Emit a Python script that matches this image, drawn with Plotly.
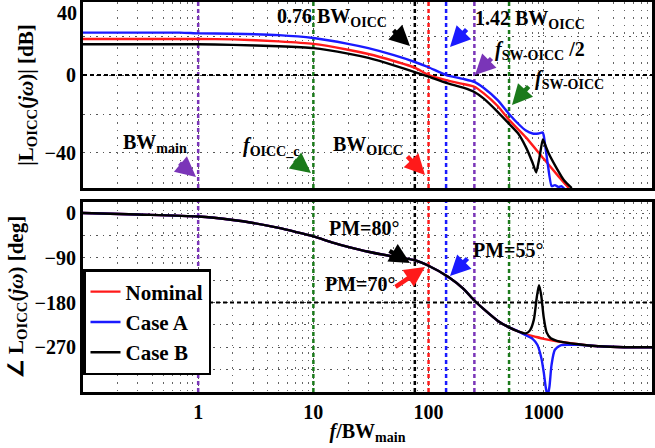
import plotly.graph_objects as go
from plotly.subplots import make_subplots

# ---------------- data ----------------
# Magnitude |L_OICC(jw)| [dB] vs f/BW_main
freq_mag_nominal = [0.1, 1, 2, 5, 10, 20, 30, 50, 76, 100, 142, 200, 250, 300, 400, 500, 700, 1000, 1300, 1650]
mag_nominal = [18.5, 18.5, 18.3, 17.3, 16.0, 13.0, 10.8, 7.2, 3.8, 0.0, -2.6, -4.6, -6.0, -9.3, -16, -23, -32, -43, -51, -58]

freq_mag_caseA = [0.1, 0.7, 1, 2, 5, 10, 20, 30, 50, 76, 100, 142, 200, 250, 300, 400, 500, 600, 700, 800, 900, 980, 1000,
                  1080, 1170, 1250, 1350, 1420, 1600]
mag_caseA = [21.8, 21.8, 21.4, 21.2, 20.5, 19.0, 16.0, 13.8, 10.2, 6.7, 4.0, 0.0, -2.0, -3.5, -6.5, -13, -20, -25, -28.5,
             -30, -30, -29.5, -31, -45, -57, -56.5, -57.5, -57, -60]

freq_mag_caseB = [0.1, 1, 2, 5, 10, 20, 30, 50, 76, 100, 142, 200, 250, 300, 400, 500, 600, 700, 800, 860, 920, 980, 1000,
                  1100, 1300, 1500, 1750]
mag_caseB = [15.8, 15.8, 15.5, 14.8, 13.8, 11.0, 8.8, 5.0, 1.5, -0.8, -4.0, -6.5, -8.7, -12, -19, -25, -30, -37, -45, -50,
             -42, -33, -34, -40, -48, -54, -58]

# Phase angle L_OICC(jw) [deg] -- common low-frequency part
freq_phase_common = [0.1, 0.3, 1, 2, 3, 5, 7, 10, 15, 20, 30, 50, 76, 100, 150, 200, 250, 300, 400, 500, 600]
phase_common = [0, -3, -7, -14, -20, -30, -38, -47, -60, -68, -78, -88, -95, -106, -129, -152, -176, -193, -217, -230, -238]

freq_phase_nominal_hi = [700, 850, 1000, 1300, 2000, 3000, 5000, 9000]
phase_nominal_hi = [-244, -249, -253, -258, -264, -268, -270, -270]

freq_phase_caseA_hi = [700, 800, 880, 950, 1000, 1040, 1080, 1120, 1170, 1250, 1400, 1700, 2000, 3000, 5000, 9000]
phase_caseA_hi = [-246, -253, -265, -290, -320, -350, -368, -350, -305, -275, -266, -265, -265, -268, -270, -270]

freq_phase_caseB_hi = [700, 760, 820, 870, 910, 950, 1000, 1060, 1150, 1300, 2000, 3000, 5000, 9000]
phase_caseB_hi = [-242, -236, -215, -170, -145, -165, -210, -240, -252, -257, -264, -268, -270, -270]

series_names = ["Nominal", "Case A", "Case B"]

# marker frequencies (f/BW_main)
marker_freqs = [1, 10, 76, 100, 142, 250, 500]

x_ticks = [1, 10, 100, 1000]
x_tick_text = ["1", "10", "100", "1000"]
mag_ticks = [0, -40]
phase_ticks = [0, -90, -180, -270]

# ---------------- style ----------------
RED = "#ff1a1a"
BLUE = "#1a1aff"
BLACK = "#000000"
PURPLE = "#7a35b8"
GREEN = "#1b7a1b"
series_colors = [RED, BLUE, BLACK]
marker_colors = [PURPLE, GREEN, BLACK, RED, BLUE, PURPLE, GREEN]

FONT = "Liberation Serif"
MAG_RANGE = [-58, 37.5]
PH_RANGE = [-360, 22]
X_RANGE = [-1, 3.94]

fig = make_subplots(rows=2, cols=1)

# vertical marker lines
for row, yr in ((1, MAG_RANGE), (2, PH_RANGE)):
    for f, c in zip(marker_freqs, marker_colors):
        fig.add_trace(go.Scatter(x=[f, f], y=yr, mode="lines", showlegend=False, hoverinfo="skip",
                                 line=dict(color=c, width=2.5, dash="4px,3px")), row=row, col=1)

# horizontal reference lines (0 dB, -180 deg)
fig.add_trace(go.Scatter(x=[10 ** X_RANGE[0], 10 ** X_RANGE[1]], y=[0, 0], mode="lines", showlegend=False,
                         line=dict(color=BLACK, width=2, dash="4px,3px"), hoverinfo="skip"), row=1, col=1)
fig.add_trace(go.Scatter(x=[10 ** X_RANGE[0], 10 ** X_RANGE[1]], y=[-180, -180], mode="lines", showlegend=False,
                         line=dict(color=BLACK, width=2, dash="4px,3px"), hoverinfo="skip"), row=2, col=1)

mag_f = [freq_mag_nominal, freq_mag_caseA, freq_mag_caseB]
mag_v = [mag_nominal, mag_caseA, mag_caseB]
for name, c, fx, vy in zip(series_names, series_colors, mag_f, mag_v):
    fig.add_trace(go.Scatter(x=fx, y=vy, mode="lines", name=name, showlegend=False,
                             line=dict(color=c, width=2.4, shape="spline", smoothing=0.5)), row=1, col=1)

ph_f = [freq_phase_common + freq_phase_nominal_hi, freq_phase_common + freq_phase_caseA_hi,
        freq_phase_common + freq_phase_caseB_hi]
ph_v = [phase_common + phase_nominal_hi, phase_common + phase_caseA_hi, phase_common + phase_caseB_hi]
for name, c, fx, vy in zip(series_names, series_colors, ph_f, ph_v):
    fig.add_trace(go.Scatter(x=fx, y=vy, mode="lines", name=name, showlegend=True,
                             line=dict(color=c, width=2.4, shape="spline", smoothing=0.7)), row=2, col=1)

axis_common = dict(showline=True, linewidth=3, linecolor="black", mirror=True, ticks="",
                   tickfont=dict(family=FONT, size=20, color="black", weight="bold"),
                   showgrid=True, gridcolor="#555", griddash="1.5px,5px", gridwidth=1.4, zeroline=False)

fig.update_xaxes(type="log", range=X_RANGE, tickvals=x_ticks, ticktext=x_tick_text,
                 minor=dict(dtick="D1", showgrid=True, gridcolor="#666", griddash="1.5px,6px", gridwidth=1.4, ticks=""),
                 **axis_common)
fig.update_xaxes(showticklabels=False, row=1, col=1)
fig.update_xaxes(title=dict(text="<i>f</i>/BW<sub>main</sub>", font=dict(family=FONT, size=20, color="black", weight="bold"),
                            standoff=2), row=2, col=1)

fig.update_yaxes(**axis_common)
fig.update_yaxes(range=MAG_RANGE, tickvals=mag_ticks, domain=[0.523, 1.0], row=1, col=1,
                 minor=dict(dtick=20, showgrid=True, gridcolor="#555", griddash="1.5px,5px", gridwidth=1.4),
                 title=dict(text="|L<sub>OICC</sub>(<i>jω</i>)| [dB]",
                            font=dict(family=FONT, size=21, color="black", weight="bold"), standoff=6))
fig.update_yaxes(range=PH_RANGE, tickvals=phase_ticks, domain=[0.0, 0.487], row=2, col=1,
                 minor=dict(dtick=45, showgrid=True, gridcolor="#555", griddash="1.5px,5px", gridwidth=1.4),
                 title=dict(text="∠ L<sub>OICC</sub>(<i>jω</i>) [deg]",
                            font=dict(family=FONT, size=21, color="black", weight="bold"), standoff=6))

# ---------------- annotations (pixel helpers) ----------------
L, R, T, B = 83, 652, 2, 392
W, H = R - L, B - T


def px(x):
    return (x - L) / W


def py(y):
    return (B - y) / H


ann = []
afont = dict(family=FONT, size=20, color="black", weight="bold")

labels = [
    ("BW<sub>main</sub>", 155, 143),
    ("<i>f</i><sub>OICC_c</sub>", 271, 146),
    ("BW<sub>OICC</sub>", 368, 145),
    ("0.76 BW<sub>OICC</sub>", 332, 18),
    ("1.42 BW<sub>OICC</sub>", 530, 20),
    ("<i>f</i><sub>SW-OICC</sub> /2", 540, 50),
    ("<i>f</i><sub>SW-OICC</sub>", 569, 80),
    ("PM=80°", 364, 228),
    ("PM=70°", 360, 284),
    ("PM=55°", 508, 250),
]
for t, cx, cy in labels:
    ann.append(dict(text=t, x=px(cx), y=py(cy), xref="paper", yref="paper", showarrow=False,
                    xanchor="center", yanchor="middle", font=afont))

arrows = [
    (PURPLE, 178, 162, 196, 177),
    (GREEN, 293, 159, 311, 173),
    (RED, 406, 155, 425, 175),
    (BLACK, 392, 29, 410, 46),
    (BLUE, 468, 28, 450, 47),
    (PURPLE, 493, 57, 475, 75),
    (GREEN, 530, 85, 512, 105),
    (BLACK, 388, 250, 410, 263),
    (RED, 394, 288, 425, 267),
    (BLUE, 469, 257, 450, 276),
]
for c, x0, y0, x1, y1 in arrows:
    ann.append(dict(text="", x=px(x1), y=py(y1), xref="paper", yref="paper", showarrow=True,
                    ax=x0 - x1, ay=y0 - y1, arrowcolor=c, arrowwidth=4.5, arrowhead=2, arrowsize=0.9, standoff=0))

# "40" label at top of magnitude axis
ann.append(dict(text="40", x=0, y=1, xref="paper", yref="paper", showarrow=False, xanchor="right", yanchor="top",
                xshift=-4, yshift=2, font=afont))

fig.update_layout(
    width=655, height=448,
    margin=dict(l=L, r=655 - R, t=T, b=448 - B, autoexpand=False),
    paper_bgcolor="white", plot_bgcolor="white",
    font=dict(family=FONT, size=20, color="black", weight="bold"),
    annotations=ann,
    legend=dict(x=0, y=py(375), xanchor="left", yanchor="bottom", bgcolor="white", bordercolor="black",
                borderwidth=2.5, font=dict(family=FONT, size=21, color="black", weight="bold"),
                tracegroupgap=0, itemwidth=30),
)

fig.write_html("out.html")
